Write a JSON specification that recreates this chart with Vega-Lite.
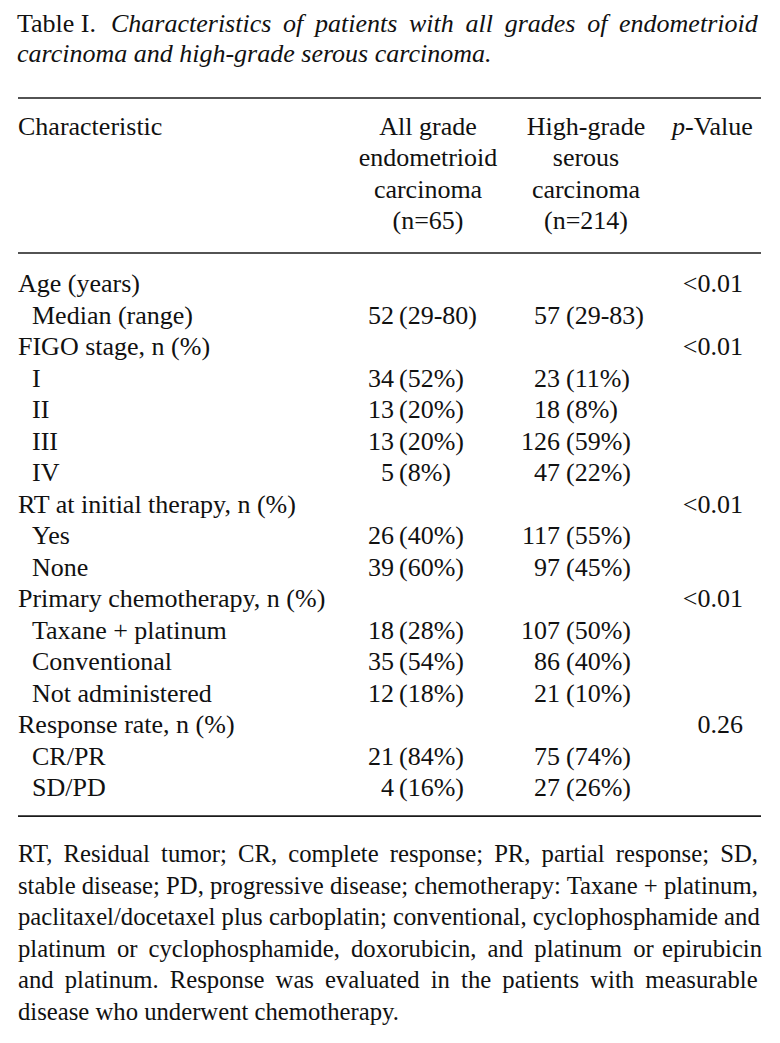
{
  "$schema": "https://vega.github.io/schema/vega-lite/v6.json",
  "width": 780,
  "height": 1043,
  "autosize": {"type": "fit", "contains": "padding"},
  "padding": 0,
  "background": "white",
  "config": {
    "view": {"stroke": null},
    "text": {"font": "Liberation Serif", "fontSize": 26, "color": "#111111", "baseline": "alphabetic"}
  },
  "datasets": {
    "cells": [
      {"line": -8.25, "col": "title", "text": "Table I."},
      {"line": -8.25, "col": "titleItalic", "text": "Characteristics \u2009of \u2009patients \u2009with \u2009all \u2009grades \u2009of \u2009endometrioid"},
      {"line": -7.3, "col": "leftItalic", "text": "carcinoma and high-grade serous carcinoma."},
      {"line": -5, "col": "left", "text": "Characteristic"},
      {"line": -5, "col": "h2", "text": "All grade"},
      {"line": -5, "col": "h3", "text": "High-grade"},
      {"line": -5, "col": "pItalic", "text": "p"},
      {"line": -5, "col": "pRest", "text": "-Value"},
      {"line": -4, "col": "h2", "text": "endometrioid"},
      {"line": -4, "col": "h3", "text": "serous"},
      {"line": -3, "col": "h2", "text": "carcinoma"},
      {"line": -3, "col": "h3", "text": "carcinoma"},
      {"line": -2, "col": "h2", "text": "(n=65)"},
      {"line": -2, "col": "h3", "text": "(n=214)"},
      {"line": 0, "col": "left", "text": "Age (years)"},
      {"line": 0, "col": "pv", "text": "<0.01"},
      {"line": 1, "col": "sub", "text": "Median (range)"},
      {"line": 1, "col": "n2", "text": "52"},
      {"line": 1, "col": "p2", "text": "(29-80)"},
      {"line": 1, "col": "n3", "text": "57"},
      {"line": 1, "col": "p3", "text": "(29-83)"},
      {"line": 2, "col": "left", "text": "FIGO stage, n (%)"},
      {"line": 2, "col": "pv", "text": "<0.01"},
      {"line": 3, "col": "sub", "text": "I"},
      {"line": 3, "col": "n2", "text": "34"},
      {"line": 3, "col": "p2", "text": "(52%)"},
      {"line": 3, "col": "n3", "text": "23"},
      {"line": 3, "col": "p3", "text": "(11%)"},
      {"line": 4, "col": "sub", "text": "II"},
      {"line": 4, "col": "n2", "text": "13"},
      {"line": 4, "col": "p2", "text": "(20%)"},
      {"line": 4, "col": "n3", "text": "18"},
      {"line": 4, "col": "p3", "text": "(8%)"},
      {"line": 5, "col": "sub", "text": "III"},
      {"line": 5, "col": "n2", "text": "13"},
      {"line": 5, "col": "p2", "text": "(20%)"},
      {"line": 5, "col": "n3", "text": "126"},
      {"line": 5, "col": "p3", "text": "(59%)"},
      {"line": 6, "col": "sub", "text": "IV"},
      {"line": 6, "col": "n2", "text": "5"},
      {"line": 6, "col": "p2", "text": "(8%)"},
      {"line": 6, "col": "n3", "text": "47"},
      {"line": 6, "col": "p3", "text": "(22%)"},
      {"line": 7, "col": "left", "text": "RT at initial therapy, n (%)"},
      {"line": 7, "col": "pv", "text": "<0.01"},
      {"line": 8, "col": "sub", "text": "Yes"},
      {"line": 8, "col": "n2", "text": "26"},
      {"line": 8, "col": "p2", "text": "(40%)"},
      {"line": 8, "col": "n3", "text": "117"},
      {"line": 8, "col": "p3", "text": "(55%)"},
      {"line": 9, "col": "sub", "text": "None"},
      {"line": 9, "col": "n2", "text": "39"},
      {"line": 9, "col": "p2", "text": "(60%)"},
      {"line": 9, "col": "n3", "text": "97"},
      {"line": 9, "col": "p3", "text": "(45%)"},
      {"line": 10, "col": "left", "text": "Primary chemotherapy, n (%)"},
      {"line": 10, "col": "pv", "text": "<0.01"},
      {"line": 11, "col": "sub", "text": "Taxane + platinum"},
      {"line": 11, "col": "n2", "text": "18"},
      {"line": 11, "col": "p2", "text": "(28%)"},
      {"line": 11, "col": "n3", "text": "107"},
      {"line": 11, "col": "p3", "text": "(50%)"},
      {"line": 12, "col": "sub", "text": "Conventional"},
      {"line": 12, "col": "n2", "text": "35"},
      {"line": 12, "col": "p2", "text": "(54%)"},
      {"line": 12, "col": "n3", "text": "86"},
      {"line": 12, "col": "p3", "text": "(40%)"},
      {"line": 13, "col": "sub", "text": "Not administered"},
      {"line": 13, "col": "n2", "text": "12"},
      {"line": 13, "col": "p2", "text": "(18%)"},
      {"line": 13, "col": "n3", "text": "21"},
      {"line": 13, "col": "p3", "text": "(10%)"},
      {"line": 14, "col": "left", "text": "Response rate, n (%)"},
      {"line": 14, "col": "pv", "text": "0.26"},
      {"line": 15, "col": "sub", "text": "CR/PR"},
      {"line": 15, "col": "n2", "text": "21"},
      {"line": 15, "col": "p2", "text": "(84%)"},
      {"line": 15, "col": "n3", "text": "75"},
      {"line": 15, "col": "p3", "text": "(74%)"},
      {"line": 16, "col": "sub", "text": "SD/PD"},
      {"line": 16, "col": "n2", "text": "4"},
      {"line": 16, "col": "p2", "text": "(16%)"},
      {"line": 16, "col": "n3", "text": "27"},
      {"line": 16, "col": "p3", "text": "(26%)"},
      {"line": 18.1, "col": "foot", "text": "RT, \u2009Residual \u2009tumor; \u2009CR, \u2009complete \u2009response; \u2009PR, \u2009partial \u2009response; \u2009SD,"},
      {"line": 19.1, "col": "foot", "text": "stable disease; PD, progressive disease; chemotherapy: Taxane + platinum,"},
      {"line": 20.1, "col": "foot", "text": "paclitaxel/docetaxel plus carboplatin; conventional, cyclophosphamide and"},
      {"line": 21.1, "col": "foot", "text": "platinum \u2009or \u2009cyclophosphamide, \u2009doxorubicin, \u2009and \u2009platinum \u2009or \u200aepirubicin"},
      {"line": 22.1, "col": "foot", "text": "and \u2009platinum. \u2009Response \u2009was \u2009evaluated \u2009in \u2009the \u2009patients \u2009with \u2009measurable"},
      {"line": 23.1, "col": "foot", "text": "disease who underwent chemotherapy."}
    ],
    "rules": [
      {"line": -6.16},
      {"line": -1.24},
      {"line": 16.64}
    ]
  },
  "data": {"name": "cells"},
  "encoding": {
    "y": {"field": "line", "type": "quantitative", "scale": {"domain": [-9, 24], "range": [8.5, 1048], "zero": false, "nice": false}, "axis": null}
  },
  "layer": [
    {
      "data": {"name": "rules"},
      "mark": {"type": "rule", "strokeWidth": 1.6, "color": "#1a1a1a"},
      "encoding": {
        "x": {"datum": 18, "type": "quantitative", "scale": {"domain": [0, 780], "range": [0, 780], "zero": false, "nice": false}, "axis": null},
        "x2": {"datum": 761}
      }
    },
    {
      "transform": [{"filter": {"field": "col", "equal": "title"}}],
      "mark": {"type": "text", "align": "left"},
      "encoding": {"x": {"datum": 17, "type": "quantitative"}, "text": {"field": "text"}}
    },
    {
      "transform": [{"filter": {"field": "col", "equal": "titleItalic"}}],
      "mark": {"type": "text", "align": "left", "fontStyle": "italic"},
      "encoding": {"x": {"datum": 111, "type": "quantitative"}, "text": {"field": "text"}}
    },
    {
      "transform": [{"filter": {"field": "col", "equal": "leftItalic"}}],
      "mark": {"type": "text", "align": "left", "fontStyle": "italic"},
      "encoding": {"x": {"datum": 17, "type": "quantitative"}, "text": {"field": "text"}}
    },
    {
      "transform": [{"filter": {"field": "col", "equal": "left"}}],
      "mark": {"type": "text", "align": "left"},
      "encoding": {"x": {"datum": 18, "type": "quantitative"}, "text": {"field": "text"}}
    },
    {
      "transform": [{"filter": {"field": "col", "equal": "sub"}}],
      "mark": {"type": "text", "align": "left"},
      "encoding": {"x": {"datum": 32, "type": "quantitative"}, "text": {"field": "text"}}
    },
    {
      "transform": [{"filter": {"field": "col", "equal": "h2"}}],
      "mark": {"type": "text", "align": "center"},
      "encoding": {"x": {"datum": 428, "type": "quantitative"}, "text": {"field": "text"}}
    },
    {
      "transform": [{"filter": {"field": "col", "equal": "h3"}}],
      "mark": {"type": "text", "align": "center"},
      "encoding": {"x": {"datum": 586, "type": "quantitative"}, "text": {"field": "text"}}
    },
    {
      "transform": [{"filter": {"field": "col", "equal": "pItalic"}}],
      "mark": {"type": "text", "align": "left", "fontStyle": "italic"},
      "encoding": {"x": {"datum": 672, "type": "quantitative"}, "text": {"field": "text"}}
    },
    {
      "transform": [{"filter": {"field": "col", "equal": "pRest"}}],
      "mark": {"type": "text", "align": "left"},
      "encoding": {"x": {"datum": 685, "type": "quantitative"}, "text": {"field": "text"}}
    },
    {
      "transform": [{"filter": {"field": "col", "equal": "n2"}}],
      "mark": {"type": "text", "align": "right"},
      "encoding": {"x": {"datum": 394, "type": "quantitative"}, "text": {"field": "text"}}
    },
    {
      "transform": [{"filter": {"field": "col", "equal": "p2"}}],
      "mark": {"type": "text", "align": "left"},
      "encoding": {"x": {"datum": 399, "type": "quantitative"}, "text": {"field": "text"}}
    },
    {
      "transform": [{"filter": {"field": "col", "equal": "n3"}}],
      "mark": {"type": "text", "align": "right"},
      "encoding": {"x": {"datum": 560, "type": "quantitative"}, "text": {"field": "text"}}
    },
    {
      "transform": [{"filter": {"field": "col", "equal": "p3"}}],
      "mark": {"type": "text", "align": "left"},
      "encoding": {"x": {"datum": 566, "type": "quantitative"}, "text": {"field": "text"}}
    },
    {
      "transform": [{"filter": {"field": "col", "equal": "pv"}}],
      "mark": {"type": "text", "align": "right"},
      "encoding": {"x": {"datum": 743, "type": "quantitative"}, "text": {"field": "text"}}
    },
    {
      "transform": [{"filter": {"field": "col", "equal": "foot"}}],
      "mark": {"type": "text", "align": "left", "fontSize": 24.7},
      "encoding": {"x": {"datum": 18, "type": "quantitative"}, "text": {"field": "text"}}
    }
  ]
}
